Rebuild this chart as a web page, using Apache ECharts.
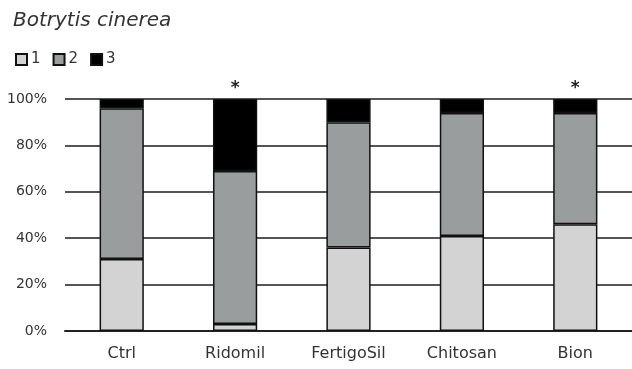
<!DOCTYPE html>
<html>
<head>
<meta charset="utf-8">
<title>Botrytis cinerea</title>
<script src="https://cdn.jsdelivr.net/npm/echarts@6/dist/echarts.min.js"></script>
<style>
  html, body { margin: 0; padding: 0; background: #fff; }
  #chart { width: 632px; height: 369px; }
</style>
</head>
<body>
<div id="chart"></div>
<script>
// Treatments and the share (%) of each infection class per treatment
const categories = ['Ctrl', 'Ridomil', 'FertigoSil', 'Chitosan', 'Bion'];
const class1 = [31, 3, 36, 41, 46];
const class2 = [65, 66, 54, 53, 48];
const class3 = [4, 31, 10, 6, 6];
const significance = ['', '*', '', '', '*'];
const yTicks = [0, 20, 40, 60, 80, 100];

const fontFamily = '"DejaVu Sans", "Open Sans", sans-serif';
const border = { borderColor: '#111', borderWidth: 1.5 };

const chart = echarts.init(document.getElementById('chart'), null, { renderer: 'canvas' });

chart.setOption({
  animation: false,
  backgroundColor: '#fff',
  title: {
    text: 'Botrytis cinerea',
    left: 8,
    top: 6,
    textStyle: { fontFamily, fontStyle: 'italic', fontWeight: 'normal', fontSize: 20, color: '#333' }
  },
  legend: {
    left: 15,
    top: 52,
    padding: 0,
    icon: 'rect',
    itemWidth: 11,
    itemHeight: 11,
    itemGap: 12,
    textStyle: { fontFamily, fontSize: 15, color: '#333', padding: [0, 0, 0, -1] },
    data: ['1', '2', '3']
  },
  grid: { left: 65, top: 99, width: 573, bottom: 38, containLabel: false },
  xAxis: {
    type: 'category',
    data: categories,
    axisTick: { show: false },
    axisLine: { show: true, lineStyle: { color: '#222', width: 2 } },
    axisLabel: { fontFamily, fontSize: 16, color: '#333', margin: 15 },
    splitLine: { show: false }
  },
  yAxis: {
    type: 'value',
    min: yTicks[0],
    max: yTicks[yTicks.length - 1],
    interval: yTicks[1] - yTicks[0],
    axisLine: { show: false },
    axisTick: { show: false },
    axisLabel: { fontFamily, fontSize: 14, color: '#333', margin: 18, formatter: '{value}%' },
    splitLine: { show: true, lineStyle: { color: '#555', width: 2 } }
  },
  series: [
    {
      name: '1', type: 'bar', stack: 'total', barWidth: '39%',
      itemStyle: Object.assign({ color: '#d3d3d3' }, border),
      data: class1
    },
    {
      name: '2', type: 'bar', stack: 'total', barWidth: '39%',
      itemStyle: Object.assign({ color: '#9a9d9d' }, border),
      data: class2
    },
    {
      name: '3', type: 'bar', stack: 'total', barWidth: '39%',
      itemStyle: Object.assign({ color: '#000' }, border),
      label: {
        show: true,
        position: 'top',
        distance: 2,
        fontFamily: '"DejaVu Sans", sans-serif',
        fontSize: 17,
        fontWeight: 'bold',
        color: '#222',
        formatter: p => significance[p.dataIndex]
      },
      data: class3
    }
  ]
});
</script>
</body>
</html>
